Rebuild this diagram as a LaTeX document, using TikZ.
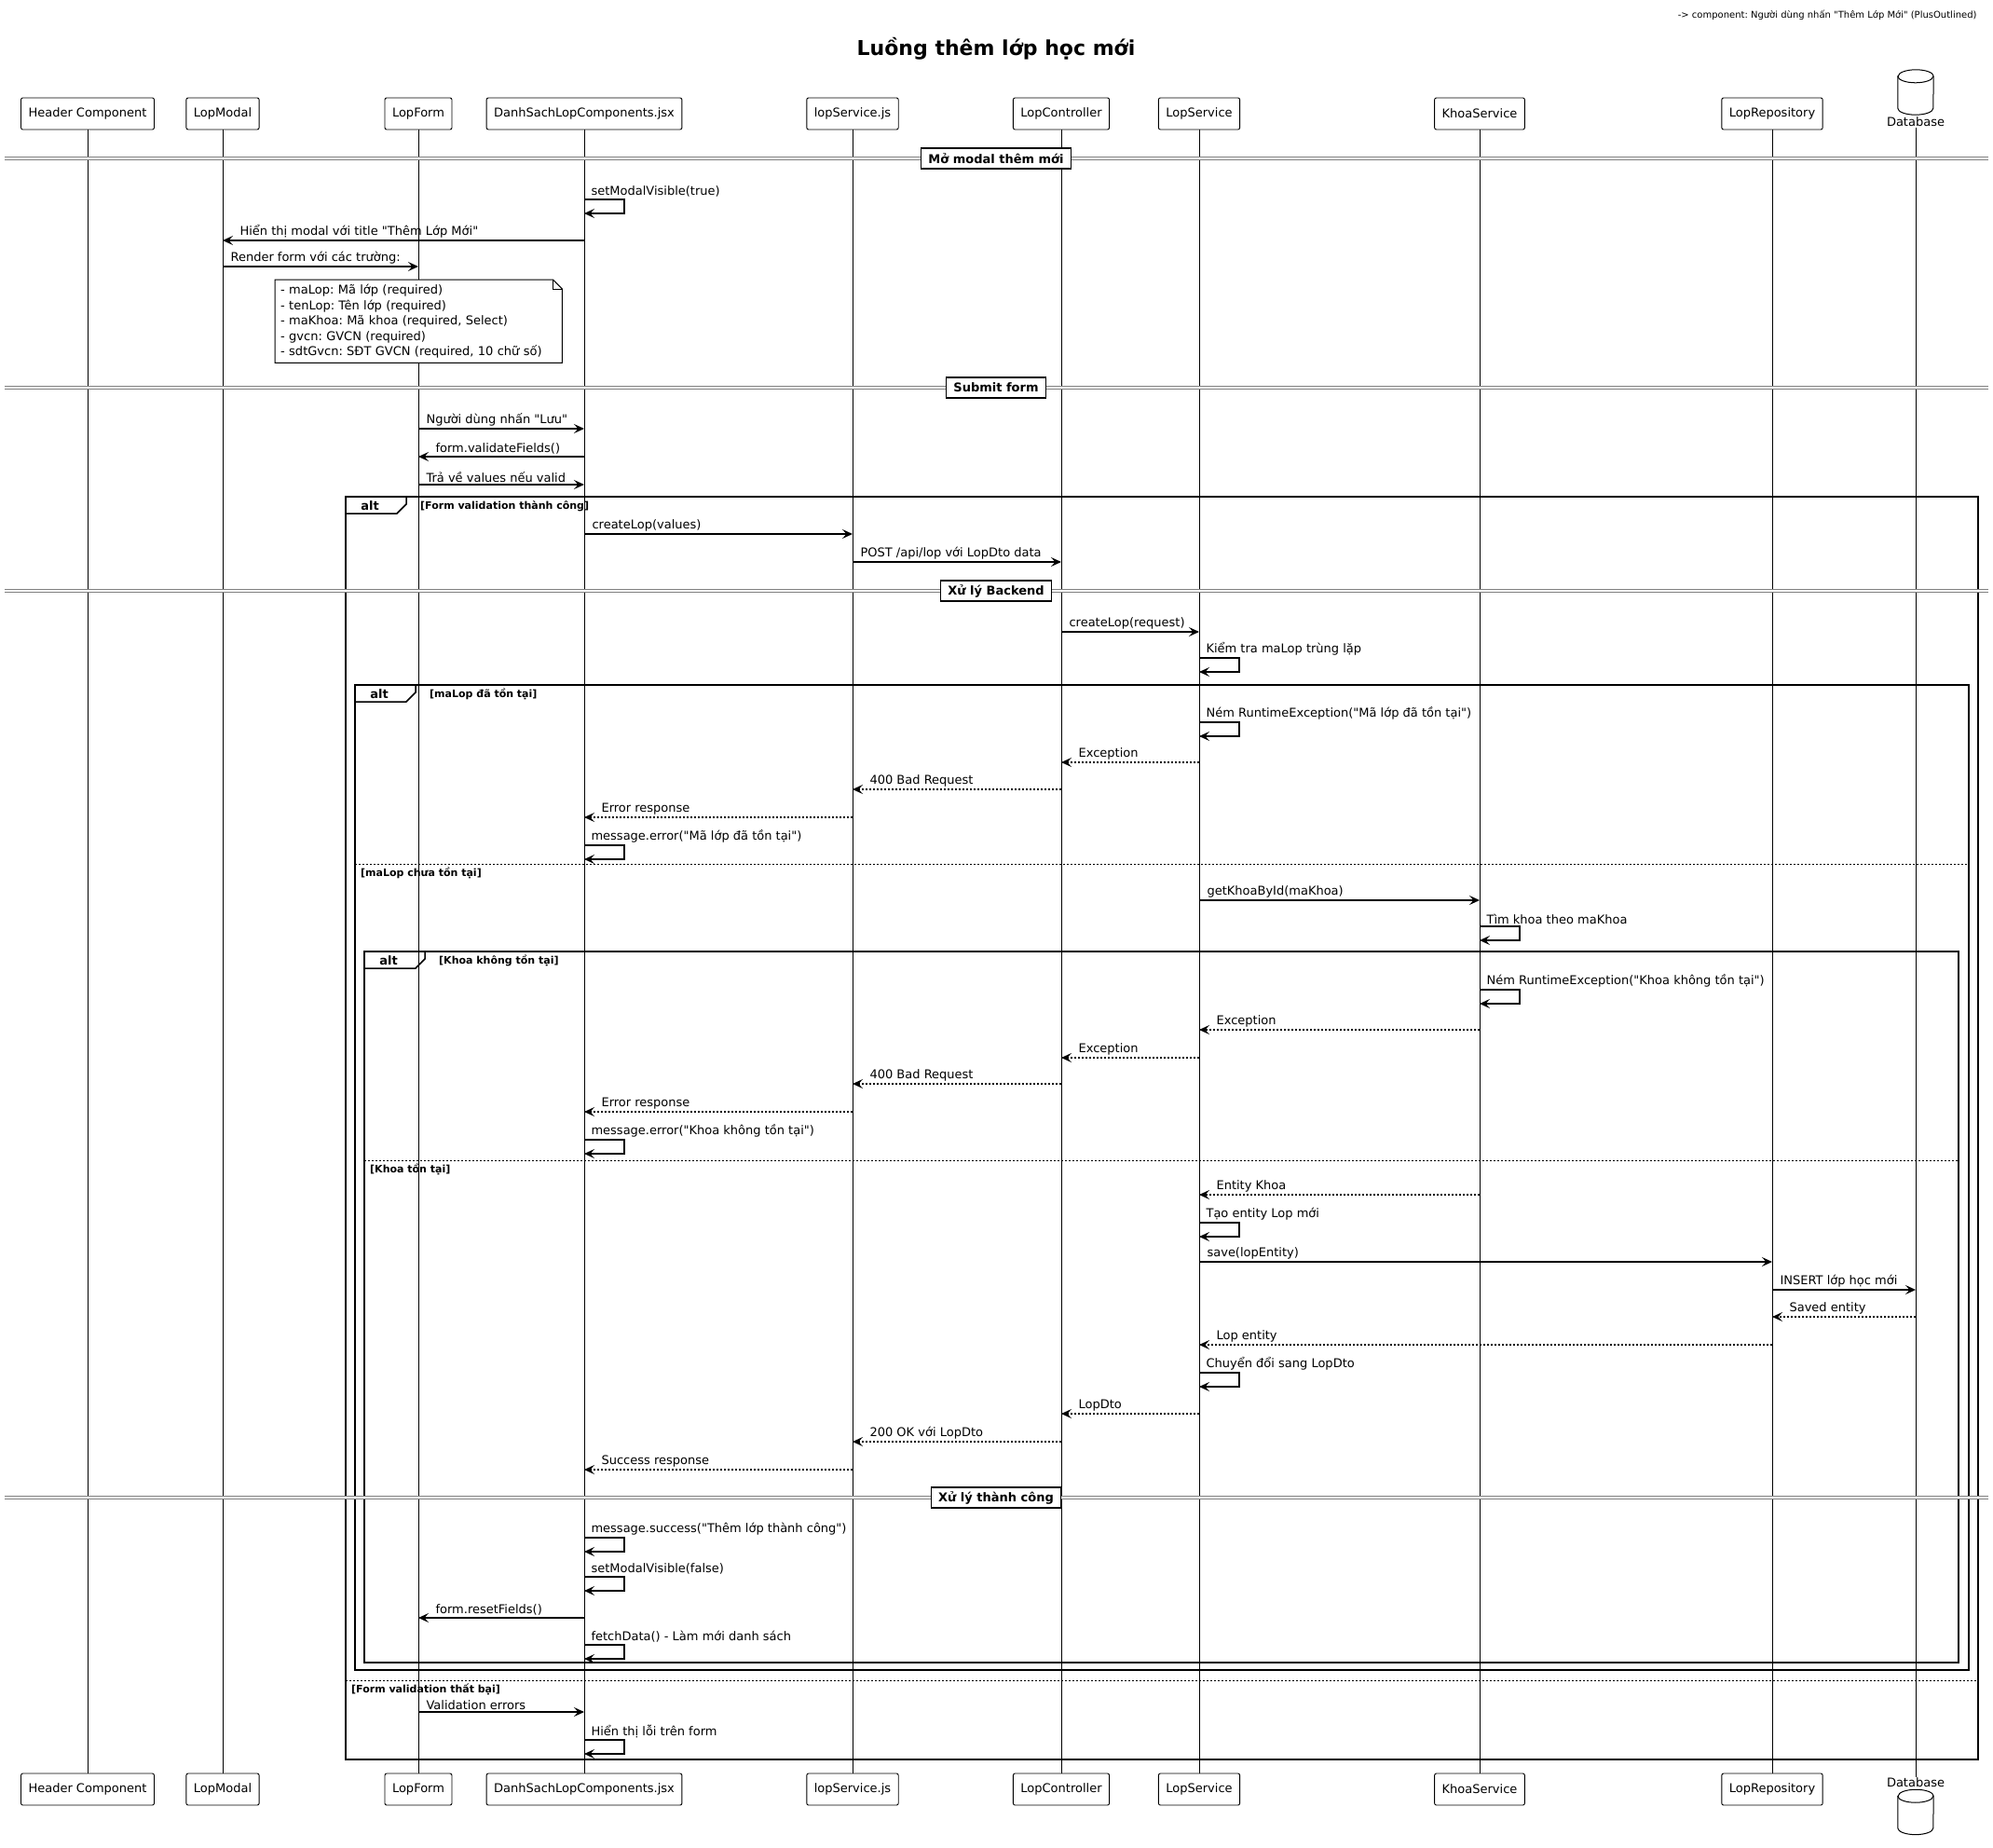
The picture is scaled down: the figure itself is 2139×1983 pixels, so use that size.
\documentclass[tikz,border=0pt]{standalone}
\usepackage{fontspec}
\setmainfont{DejaVu Sans}[Ligatures=TeXOff]
\usetikzlibrary{arrows.meta,positioning}
\frenchspacing

% message helpers: from, to, y, text
\newcommand{\msgR}[4]{\draw[call] (#1 |- 0,#3) -- (#2 |- 0,#3) node[lbl, pos=0, xshift=7pt] {#4};}
\newcommand{\msgL}[4]{\draw[call] (#1 |- 0,#3) -- (#2 |- 0,#3) node[lbl, pos=1, xshift=17pt] {#4};}
\newcommand{\retL}[4]{\draw[ret] (#1 |- 0,#3) -- (#2 |- 0,#3) node[lbl, pos=1, xshift=17pt] {#4};}
\newcommand{\selfmsg}[3]{\draw[call] (#1 |- 0,#2) node[lbl, xshift=6pt] {#3} -- ++(43,0) -- ++(0,15) -- ++(-43,0);}
% alt frame: x1, y1, x2, y2, guard
\newcommand{\altbox}[5]{%
  \draw[frame] (#1,#2) rectangle (#3,#4);
  \draw[frame] (#1,#2+18) -- (#1+55,#2+18) -- (#1+65,#2+8) -- (#1+65,#2);
  \node[font=\bfseries\fontsize{13}{15}\selectfont] at (#1+26,#2+10) {alt};
  \node[guard] at (#1+79,#2+10) {#5};}
\newcommand{\altelse}[4]{%
  \draw[elseline] (#1,#3) -- (#2,#3);
  \node[guard] at (#1+5,#3+10) {#4};}
\newcommand{\divider}[3]{%
  \draw[divline] (5,#2) -- (2134,#2);
  \node[divbox] (#1) at (1069,#2) {#3};}
% database drum drawn over a placeholder node
\newcommand{\drum}[1]{%
  \draw[fill=white, line width=1pt] ([yshift=-7pt]#1.north west) -- ([yshift=7pt]#1.south west)
    arc[start angle=180, end angle=360, x radius=19pt, y radius=7pt] -- ([yshift=-7pt]#1.north east)
    arc[start angle=0, end angle=180, x radius=19pt, y radius=7pt] -- cycle;
  \draw[line width=1pt] ([yshift=-7pt]#1.north west) arc[start angle=180, end angle=360, x radius=19pt, y radius=7pt];}

\begin{document}
\begin{tikzpicture}[
  x=1pt, y=-1pt,
  part/.style={draw, rounded corners=2pt, fill=white, line width=0.9pt, minimum height=34pt, inner xsep=8pt, font=\fontsize{13}{15}\selectfont},
  dbslot/.style={minimum width=38pt, minimum height=48pt, inner sep=0pt},
  dblbl/.style={inner sep=1pt, font=\fontsize{13}{15}\selectfont},
  life/.style={line width=1pt},
  call/.style={line width=1.1pt, -{Stealth[length=11pt, width=10pt, inset=4.5pt]}},
  ret/.style={call, dash pattern=on 2pt off 2pt},
  lbl/.style={anchor=south west, inner sep=1pt, yshift=1pt, font=\fontsize{13}{15}\selectfont},
  frame/.style={line width=1.5pt},
  elseline/.style={line width=1pt, dash pattern=on 2pt off 2pt},
  guard/.style={anchor=west, inner sep=1pt, font=\bfseries\fontsize{11}{13}\selectfont},
  divline/.style={draw=gray, line width=1pt, double=white, double distance=2pt},
  divbox/.style={draw, fill=white, line width=1.2pt, inner xsep=8pt, minimum height=22pt, font=\bfseries\fontsize{13}{15}\selectfont},
  notebox/.style={anchor=north west, fill=white, text width=296pt, minimum height=89pt, inner xsep=6pt, align=left, font=\fontsize{13}{16.5}\selectfont\frenchspacing},
]
\useasboundingbox (0,0) rectangle (2139,1983);

\node[anchor=east, font=\fontsize{10}{12}\selectfont] (hdr) at (2125,16) {-> component: Người dùng nhấn "Thêm Lớp Mới" (PlusOutlined)};
\node[font=\bfseries\fontsize{22}{26}\selectfont] (title) at (1069,52) {Luồng thêm lớp học mới};

% participants, top
\node[part] (hcT) at (94,122) {Header Component};
\node[part] (lmT) at (239,122) {LopModal};
\node[part] (lfT) at (449,122) {LopForm};
\node[part] (dsT) at (627,122) {DanhSachLopComponents.jsx};
\node[part] (lsjT) at (915,122) {lopService.js};
\node[part] (lcT) at (1139,122) {LopController};
\node[part] (lsT) at (1287,122) {LopService};
\node[part] (ksT) at (1588,122) {KhoaService};
\node[part] (lrT) at (1902,122) {LopRepository};
\node[dbslot] (dbTc) at (2056,99) {};
\drum{dbTc}
\node[dblbl, below=1pt of dbTc] (dbT) {Database};

% participants, bottom
\node[part] (hcB) at (94,1920) {Header Component};
\node[part] (lmB) at (239,1920) {LopModal};
\node[part] (lfB) at (449,1920) {LopForm};
\node[part] (dsB) at (627,1920) {DanhSachLopComponents.jsx};
\node[part] (lsjB) at (915,1920) {lopService.js};
\node[part] (lcB) at (1139,1920) {LopController};
\node[part] (lsB) at (1287,1920) {LopService};
\node[part] (ksB) at (1588,1920) {KhoaService};
\node[part] (lrB) at (1902,1920) {LopRepository};
\node[dblbl] (dbB) at (2056,1913) {Database};
\node[dbslot, below=1pt of dbB] (dbBc) {};
\drum{dbBc}

% lifelines
\foreach \p in {hc,lm,lf,ds,lsj,lc,ls,ks,lr,db}
  \draw[life] (\p T.south) -- (\p B.north);

\divider{dv1}{170}{Mở modal thêm mới}
\selfmsg{dsT}{214}{setModalVisible(true)}
\msgL{dsT}{lmT}{258}{Hiển thị modal với title "Thêm Lớp Mới"}
\msgR{lmT}{lfT}{286}{Render form với các trường:}
\node[notebox] (note) at (295,300)
  {- maLop: Mã lớp (required)\\- tenLop: Tên lớp (required)\\- maKhoa: Mã khoa (required, Select)\\- gvcn: GVCN (required)\\- sdtGvcn: SĐT GVCN (required, 10 chữ số)};
\draw[line width=1pt] (note.north west) -- ([xshift=-10pt]note.north east) -- ([yshift=-10pt]note.north east)
  -- (note.south east) -- (note.south west) -- cycle;
\draw[line width=1pt] ([xshift=-10pt]note.north east) |- ([yshift=-10pt]note.north east);

\divider{dv2}{416}{Submit form}
\msgR{lfT}{dsT}{460}{Người dùng nhấn "Lưu"}
\msgL{dsT}{lfT}{490}{form.validateFields()}
\msgR{lfT}{dsT}{520}{Trả về values nếu valid}

\altbox{371}{533}{2123}{1888}{[Form validation thành công]}
\msgR{dsT}{lsjT}{573}{createLop(values)}
\msgR{lsjT}{lcT}{603}{POST /api/lop với LopDto data}

\divider{dv3}{634}{Xử lý Backend}
\msgR{lcT}{lsT}{678}{createLop(request)}
\selfmsg{lsT}{706}{Kiểm tra maLop trùng lặp}

\altbox{381}{735}{2113}{1792}{[maLop đã tồn tại]}
\selfmsg{lsT}{775}{Ném RuntimeException("Mã lớp đã tồn tại")}
\retL{lsT}{lcT}{818}{Exception}
\retL{lcT}{lsjT}{847}{400 Bad Request}
\retL{lsjT}{dsT}{877}{Error response}
\selfmsg{dsT}{907}{message.error("Mã lớp đã tồn tại")}
\altelse{381}{2113}{927}{[maLop chưa tồn tại]}
\msgR{lsT}{ksT}{966}{getKhoaById(maKhoa)}
\selfmsg{ksT}{994}{Tìm khoa theo maKhoa}

\altbox{391}{1021}{2102}{1784}{[Khoa không tồn tại]}
\selfmsg{ksT}{1062}{Ném RuntimeException("Khoa không tồn tại")}
\retL{ksT}{lsT}{1105}{Exception}
\retL{lsT}{lcT}{1135}{Exception}
\retL{lcT}{lsjT}{1163}{400 Bad Request}
\retL{lsjT}{dsT}{1193}{Error response}
\selfmsg{dsT}{1223}{message.error("Khoa không tồn tại")}
\altelse{391}{2102}{1245}{[Khoa tồn tại]}
\retL{ksT}{lsT}{1282}{Entity Khoa}
\selfmsg{lsT}{1312}{Tạo entity Lop mới}
\msgR{lsT}{lrT}{1354}{save(lopEntity)}
\msgR{lrT}{dbT}{1384}{INSERT lớp học mới}
\retL{dbT}{lrT}{1413}{Saved entity}
\retL{lrT}{lsT}{1443}{Lop entity}
\selfmsg{lsT}{1473}{Chuyển đổi sang LopDto}
\retL{lsT}{lcT}{1517}{LopDto}
\retL{lcT}{lsjT}{1547}{200 OK với LopDto}
\retL{lsjT}{dsT}{1577}{Success response}

\divider{dv4}{1607}{Xử lý thành công}
\selfmsg{dsT}{1650}{message.success("Thêm lớp thành công")}
\selfmsg{dsT}{1692}{setModalVisible(false)}
\msgL{dsT}{lfT}{1736}{form.resetFields()}
\selfmsg{dsT}{1765}{fetchData() - Làm mới danh sách}

\altelse{371}{2123}{1803}{[Form validation thất bại]}
\msgR{lfT}{dsT}{1837}{Validation errors}
\selfmsg{dsT}{1867}{Hiển thị lỗi trên form}
\end{tikzpicture}
\end{document}
